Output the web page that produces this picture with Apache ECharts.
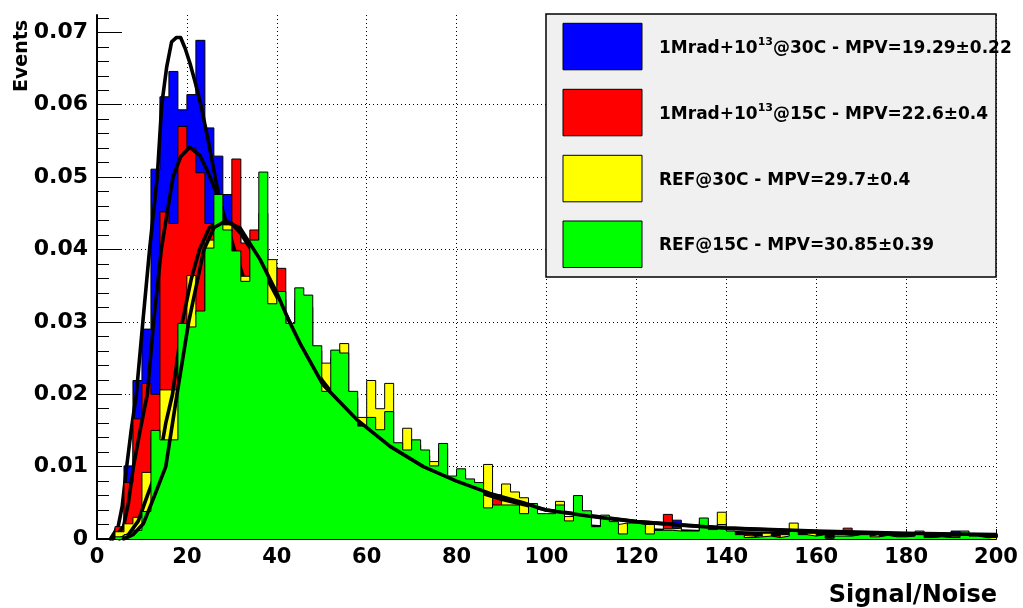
<!DOCTYPE html>
<html>
<head>
<meta charset="utf-8">
<script src="https://cdn.jsdelivr.net/npm/echarts@6/dist/echarts.min.js"></script>
<style>
html,body{margin:0;padding:0;background:#fff;}
#chart{width:1023px;height:608px;}
</style>
</head>
<body>
<div id="chart"></div>
<script>
// ---------- data (bin width 2, bins start at 0,2,4,...,198) ----------
const binWidth = 2;

const blueHist = [
  0, 0.0002, 0.0015, 0.0101, 0.0219, 0.0290, 0.0511, 0.0611, 0.0646, 0.0593,
  0.0614, 0.0689, 0.0568, 0.0529, 0.0476, 0.0420, 0.0350, 0.0300, 0.0270, 0.0240,
  0.0220, 0.0200, 0.0180, 0.0160, 0.0150, 0.0130, 0.0120, 0.0110, 0.0100, 0.0090,
  0.0085, 0.0080, 0.0070, 0.0065, 0.0060, 0.0055, 0.0050, 0.0048, 0.0045, 0.0040,
  0.0038, 0.0035, 0.0032, 0.0030, 0.0028, 0.0026, 0.0025, 0.0023, 0.0022, 0.0020,
  0.0019, 0.0018, 0.0017, 0.0016, 0.0015, 0.0012, 0.0013, 0.0012, 0.0005, 0.0010,
  0.0010, 0.0005, 0.0008, 0.0010, 0.0026, 0.0007, 0.0007, 0.0008, 0.0007, 0.0007,
  0.0006, 0.0004, 0.0002, 0.0002, 0.0003, 0.0002, 0.0003, 0.0003, 0.0003, 0.0003,
  0.0002, 0.0001, 0.0003, 0.0003, 0.0003, 0.0002, 0.0002, 0.0002, 0.0002, 0.0002,
  0.0002, 0.0003, 0.0001, 0.0002, 0.0001, 0.0011, 0.0003, 0.0002, 0.0001, 0.0002
];

const redHist = [
  0, 0, 0.0017, 0.0078, 0.0166, 0.0215, 0.0200, 0.0452, 0.0436, 0.0570,
  0.0540, 0.0506, 0.0436, 0.0460, 0.0425, 0.0525, 0.0409, 0.0427, 0.0400, 0.0350,
  0.0374, 0.0280, 0.0280, 0.0250, 0.0220, 0.0180, 0.0180, 0.0165, 0.0150, 0.0140,
  0.0125, 0.0120, 0.0110, 0.0095, 0.0090, 0.0085, 0.0080, 0.0070, 0.0068, 0.0060,
  0.0058, 0.0052, 0.0050, 0.0042, 0.0061, 0.0040, 0.0038, 0.0033, 0.0032, 0.0028,
  0.0026, 0.0024, 0.0022, 0.0021, 0.0020, 0.0015, 0.0016, 0.0015, 0.0006, 0.0012,
  0.0012, 0.0006, 0.0010, 0.0034, 0.0010, 0.0008, 0.0008, 0.0010, 0.0009, 0.0008,
  0.0007, 0.0005, 0.0008, 0.0002, 0.0003, 0.0005, 0.0003, 0.0004, 0.0003, 0.0003,
  0.0003, 0.0001, 0.0003, 0.0015, 0.0003, 0.0003, 0.0002, 0.0002, 0.0002, 0.0002,
  0.0002, 0.0004, 0.0001, 0.0002, 0.0001, 0.0002, 0.0003, 0.0002, 0.0001, 0.0006
];

const yellowHist = [
  0, 0, 0.0010, 0.0021, 0.0030, 0.0092, 0.0140, 0.0206, 0.0206, 0.0290,
  0.0364, 0.0310, 0.0413, 0.0470, 0.0434, 0.0390, 0.0363, 0.0405, 0.0450, 0.0386,
  0.0330, 0.0290, 0.0330, 0.0320, 0.0260, 0.0243, 0.0250, 0.0270, 0.0195, 0.0168,
  0.0219, 0.0180, 0.0215, 0.0125, 0.0153, 0.0130, 0.0115, 0.0107, 0.0125, 0.0080,
  0.0090, 0.0080, 0.0072, 0.0103, 0.0045, 0.0076, 0.0065, 0.0057, 0.0045, 0.0030,
  0.0030, 0.0052, 0.0031, 0.0050, 0.0035, 0.0015, 0.0028, 0.0020, 0.0022, 0.0018,
  0.0016, 0.0020, 0.0010, 0.0014, 0.0015, 0.0008, 0.0009, 0.0024, 0.0012, 0.0037,
  0.0009, 0.0005, 0.0004, 0.0002, 0.0008, 0.0002, 0.0006, 0.0022, 0.0005, 0.0008,
  0.0004, 0.0001, 0.0006, 0.0005, 0.0004, 0.0004, 0.0006, 0.0003, 0.0002, 0.0002,
  0.0003, 0.0008, 0.0002, 0.0002, 0.0001, 0.0004, 0.0008, 0.0003, 0.0001, 0.0003
];

const greenHist = [
  0, 0, 0.0003, 0.0006, 0.0012, 0.0038, 0.0150, 0.0137, 0.0137, 0.0298,
  0.0293, 0.0315, 0.0402, 0.0476, 0.0427, 0.0398, 0.0356, 0.0413, 0.0507, 0.0325,
  0.0342, 0.0298, 0.0347, 0.0337, 0.0267, 0.0204, 0.0261, 0.0257, 0.0204, 0.0156,
  0.0168, 0.0151, 0.0176, 0.0133, 0.0123, 0.0137, 0.0123, 0.0101, 0.0132, 0.0087,
  0.0097, 0.0083, 0.0078, 0.0043, 0.0047, 0.0047, 0.0047, 0.0035, 0.0049, 0.0035,
  0.0035, 0.0047, 0.0025, 0.0060, 0.0039, 0.0017, 0.0033, 0.0024, 0.0007, 0.0022,
  0.0020, 0.0007, 0.0012, 0.0012, 0.0011, 0.0011, 0.0011, 0.0029, 0.0013, 0.0020,
  0.0011, 0.0006, 0.0002, 0.0003, 0.0004, 0.0002, 0.0004, 0.0013, 0.0006, 0.0004,
  0.0006, 0.0001, 0.0004, 0.0004, 0.0006, 0.0006, 0.0003, 0.0005, 0.0003, 0.0003,
  0.0004, 0.0011, 0.0002, 0.0003, 0.0002, 0.0002, 0.0011, 0.0004, 0.0002, 0.0002
];

// Landau fit curves: [x, y]
const blueFit = [
  [3, 0], [4.7, 0.0017], [5.6, 0.0045], [6.6, 0.0100], [7.6, 0.0150], [8.75, 0.0200],
  [10.2, 0.0300], [11.7, 0.0400], [13.4, 0.0500], [14.4, 0.0600], [15.5, 0.0652],
  [16.6, 0.0687], [17.7, 0.0693], [18.6, 0.0693], [19.6, 0.0678], [20.7, 0.0657],
  [21.8, 0.0632], [23.1, 0.0600], [24.6, 0.0555], [26.3, 0.0500], [27.0, 0.0478],
  [28.5, 0.0435], [30, 0.0395], [32, 0.0350], [35, 0.0290], [40, 0.0215], [45, 0.0160],
  [50, 0.0122], [60, 0.0075], [70, 0.0048], [80, 0.0033], [90, 0.0024], [100, 0.0018],
  [120, 0.0011], [140, 0.0007], [160, 0.0005], [180, 0.0004], [200, 0.0003]
];
const redFit = [
  [3.5, 0], [5.9, 0.0017], [7.0, 0.0050], [8.1, 0.0100], [9.6, 0.0150], [11.2, 0.0200],
  [12.6, 0.0300], [14.3, 0.0400], [16.9, 0.0500], [18.6, 0.0528], [20.6, 0.0541],
  [22.9, 0.0530], [24.6, 0.0508], [26.6, 0.0478], [27.7, 0.0459], [30.3, 0.0405],
  [32.5, 0.0363], [35, 0.0318], [40, 0.0245], [45, 0.0185], [50, 0.0142], [60, 0.0088],
  [70, 0.0058], [80, 0.0040], [90, 0.0029], [100, 0.0022], [120, 0.0013], [140, 0.0009],
  [160, 0.0006], [180, 0.0005], [200, 0.0004]
];
const yellowFit = [
  [5, 0], [7, 0.0006], [9.2, 0.0025], [11.2, 0.0060], [13.6, 0.0100], [15.3, 0.0160],
  [16.8, 0.0200], [19.0, 0.0300], [21.0, 0.0360], [22.8, 0.0400], [25, 0.0430],
  [27.5, 0.0441], [30, 0.0436], [32, 0.0422], [35, 0.0393], [40, 0.0335], [45, 0.0274],
  [50, 0.0220], [55, 0.0180], [60, 0.0147], [65, 0.0122], [70, 0.0102], [80, 0.0074],
  [90, 0.0055], [100, 0.0040], [120, 0.0024], [140, 0.0015], [160, 0.0010],
  [180, 0.0007], [200, 0.0005]
];
const greenFit = [
  [5.9, 0], [8, 0.0006], [10.3, 0.0021], [12.5, 0.0055], [15.3, 0.0100], [17.8, 0.0200],
  [20.4, 0.0300], [23.8, 0.0400], [26, 0.0430], [28.5, 0.0439], [31.8, 0.0430],
  [36.3, 0.0386], [40, 0.0340], [42.6, 0.0303], [45.2, 0.0270], [50.3, 0.0213],
  [57.8, 0.0165], [65.2, 0.0128], [72.6, 0.0100], [80, 0.0080], [87.4, 0.0063],
  [94.8, 0.0050], [99.8, 0.0040], [110, 0.0031], [119.9, 0.0024], [130, 0.0019],
  [140, 0.0015], [160, 0.0011], [180, 0.0008], [200, 0.0006]
];

const yTicks = [0, 0.01, 0.02, 0.03, 0.04, 0.05, 0.06, 0.07];
const legendTexts = [
  ['1Mrad+10', '13', '@30C - MPV=19.29\u00b10.22'],
  ['1Mrad+10', '13', '@15C - MPV=22.6\u00b10.4'],
  ['REF@30C - MPV=29.7\u00b10.4', '', ''],
  ['REF@15C - MPV=30.85\u00b10.39', '', '']
];
const seriesNames = ['1Mrad@30C', '1Mrad@15C', 'REF@30C', 'REF@15C'];
const seriesColors = ['#0000ff', '#ff0000', '#ffff00', '#00ff00'];
const xTitle = 'Signal/Noise';
const yTitle = 'Events';

// ---------- build ----------
const FONT = 'DejaVu Sans';

function stepPoints(vals) {
  const pts = vals.map((v, i) => [i * binWidth, v]);
  pts.push([vals.length * binWidth, vals[vals.length - 1]]);
  return pts;
}

function histSeries(name, vals, color, z) {
  return {
    type: 'line', name: name, data: stepPoints(vals), step: 'end',
    symbol: 'none', showSymbol: false, silent: true, z: z,
    lineStyle: { color: '#000', width: 1 },
    areaStyle: { color: color, opacity: 1 },
    itemStyle: { color: color }
  };
}
function fitSeries(name, pts, z) {
  return {
    type: 'line', name: name, data: pts, smooth: false,
    symbol: 'none', showSymbol: false, silent: true, z: z,
    lineStyle: { color: '#000', width: 3.6, join: 'round', cap: 'round' }
  };
}

const hists = [blueHist, redHist, yellowHist, greenHist];
const fits = [blueFit, redFit, yellowFit, greenFit];
const series = [];
hists.forEach((h, i) => {
  series.push(histSeries(seriesNames[i], h, seriesColors[i], 10 + 2 * i));
  series.push(fitSeries(seriesNames[i] + ' fit', fits[i], 11 + 2 * i));
});

const graphics = [];
graphics.push({
  type: 'rect', z: 100, silent: true,
  shape: { x: 546, y: 14, width: 450, height: 263 },
  style: { fill: '#f0f0f0', stroke: '#000', lineWidth: 1.5 }
});
const rowTop = [23.3, 89.3, 155.3, 221.0];
legendTexts.forEach((t, i) => {
  graphics.push({
    type: 'rect', z: 101, silent: true,
    shape: { x: 563, y: rowTop[i], width: 79, height: 46.5 },
    style: { fill: seriesColors[i], stroke: '#000', lineWidth: 1 }
  });
  let txt;
  if (t[1]) {
    txt = '{a|' + t[0] + '}{s|' + t[1] + '}{a|' + t[2] + '}';
  } else {
    txt = '{a|' + t[0] + '}';
  }
  graphics.push({
    type: 'text', z: 102, silent: true,
    x: 659, y: rowTop[i] + 25,
    style: {
      text: txt, align: 'left', verticalAlign: 'middle',
      rich: {
        a: { fontFamily: FONT, fontWeight: 'bold', fontSize: 17, lineHeight: 24, fill: '#000', verticalAlign: 'middle' },
        s: { fontFamily: FONT, fontWeight: 'bold', fontSize: 11, lineHeight: 12, fill: '#000', verticalAlign: 'top' }
      }
    }
  });
});
graphics.push({
  type: 'text', silent: true, x: 997, y: 596,
  style: { text: xTitle, align: 'right', verticalAlign: 'middle',
    fontFamily: FONT, fontWeight: 'bold', fontSize: 24, fill: '#000' }
});
graphics.push({
  type: 'text', silent: true, x: 22, y: 56, rotation: Math.PI / 2,
  style: { text: yTitle, align: 'center', verticalAlign: 'middle',
    fontFamily: FONT, fontWeight: 'bold', fontSize: 19, fill: '#000' }
});

const dotted = { color: '#000', type: [1, 3], width: 1 };

const option = {
  animation: false,
  backgroundColor: '#ffffff',
  grid: { left: 97, right: 27, top: 15, bottom: 69, containLabel: false },
  xAxis: {
    type: 'value', min: 0, max: 200, interval: 20,
    axisLine: { show: true, onZero: false, lineStyle: { color: '#000', width: 2 } },
    axisTick: { show: true, inside: true, length: 10, lineStyle: { color: '#000', width: 1 } },
    minorTick: { show: false },
    splitLine: { show: true, lineStyle: dotted },
    axisLabel: { fontFamily: FONT, fontWeight: 'bold', fontSize: 21, color: '#000', margin: 8 }
  },
  yAxis: {
    type: 'value', min: 0, max: 0.0724, interval: 0.01,
    axisLine: { show: true, onZero: false, lineStyle: { color: '#000', width: 2 } },
    axisTick: { show: true, inside: true, length: 25, customValues: yTicks, lineStyle: { color: '#000', width: 1 } },
    minorTick: { show: true, splitNumber: 5, length: 12, lineStyle: { color: '#000', width: 1 } },
    splitLine: { show: true, showMaxLine: false, lineStyle: dotted },
    axisLabel: { customValues: yTicks, fontFamily: FONT, fontWeight: 'bold', fontSize: 22, color: '#000', margin: 9 }
  },
  series: series,
  graphic: graphics
};

const chart = echarts.init(document.getElementById('chart'), null, { renderer: 'canvas' });
chart.setOption(option);
</script>
</body>
</html>
